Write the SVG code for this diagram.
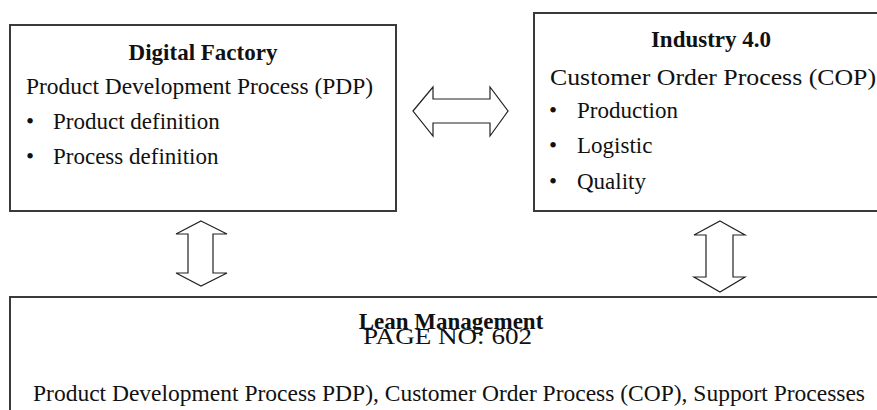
<svg xmlns="http://www.w3.org/2000/svg" width="877" height="410" viewBox="0 0 877 410">
<style>
.box{fill:#fff;stroke:#3a3a3a;stroke-width:2}
.arr{fill:#fff;stroke:#222;stroke-width:1.2;stroke-linejoin:miter}
text{font-family:"Liberation Serif","Times New Roman",serif;font-size:23px;fill:#111}
.b{font-weight:bold}
.c{text-anchor:middle}
</style>
<rect width="877" height="410" fill="#fff"/>
<g id="digital-factory">
<rect class="box" x="10" y="25" width="386" height="186"/>
<text class="b c" x="203" y="60">Digital Factory</text>
<text x="26" y="94" textLength="347" lengthAdjust="spacingAndGlyphs">Product Development Process (PDP)</text>
<text x="26" y="129">•</text><text x="53" y="129">Product definition</text>
<text x="26" y="164">•</text><text x="53" y="164">Process definition</text>
</g>
<g id="industry-40">
<rect class="box" x="534" y="13" width="360" height="198"/>
<text class="b c" x="711" y="47">Industry 4.0</text>
<text x="550" y="85" textLength="326" lengthAdjust="spacingAndGlyphs">Customer Order Process (COP)</text>
<text x="549" y="118">•</text><text x="577" y="118">Production</text>
<text x="549" y="153">•</text><text x="577" y="153">Logistic</text>
<text x="549" y="189">•</text><text x="577" y="189">Quality</text>
</g>
<g id="lean-management">
<rect class="box" x="10" y="297" width="884" height="130"/>
<text class="b c" x="451" y="329">Lean Management</text>
<text x="363" y="344" textLength="169" lengthAdjust="spacingAndGlyphs">PAGE NO: 602</text>
<text x="33" y="401" textLength="832" lengthAdjust="spacingAndGlyphs">Product Development Process PDP), Customer Order Process (COP), Support Processes</text>
</g>
<g id="connectors">
<polygon class="arr" points="413,111 433,87 433,99 490,99 490,87 508,111 490,136 490,123 433,123 433,136"/>
<polygon class="arr" points="201,221 227,234 213,234 213,273 227,273 201,286 176,273 188,273 188,234 176,234"/>
<polygon class="arr" points="720,221 745,235 733,235 733,277 745,277 720,292 694,277 706,277 706,235 694,235"/>
</g>
</svg>
